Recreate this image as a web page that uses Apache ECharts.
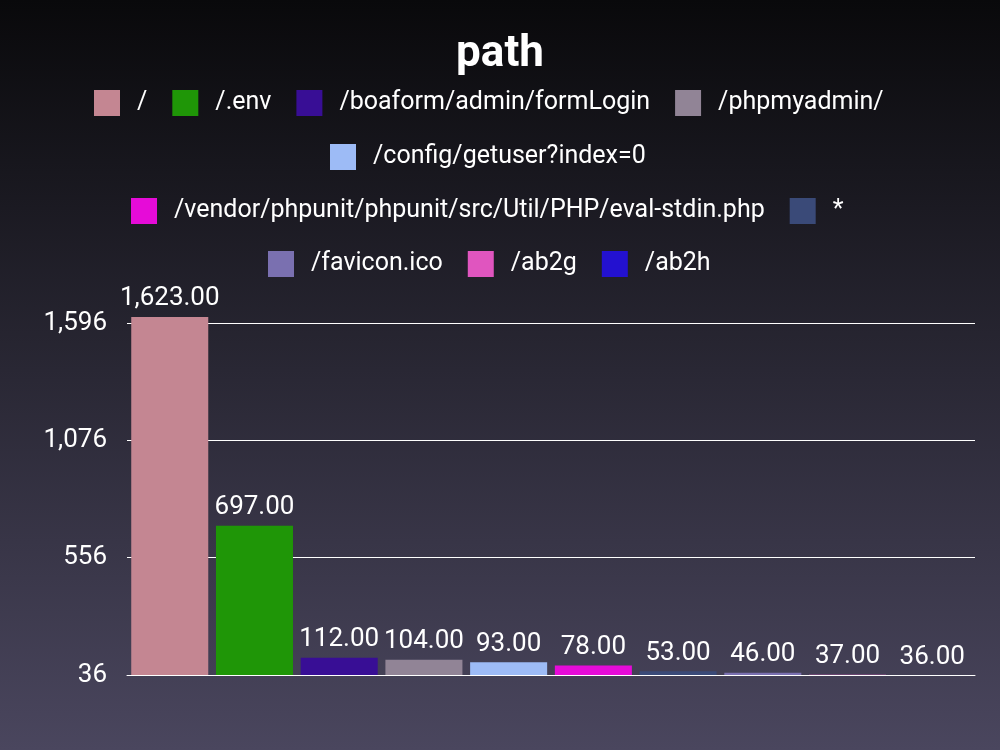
<!DOCTYPE html>
<html><head><meta charset="utf-8">
<script src="https://cdn.jsdelivr.net/npm/echarts@6/dist/echarts.min.js"></script>
<style>html,body{margin:0;padding:0;}#c{width:1000px;height:750px;}</style>
</head><body><div id="c"></div>
<script>
const names = ['/', '/.env', '/boaform/admin/formLogin', '/phpmyadmin/', '/config/getuser?index=0', '/vendor/phpunit/phpunit/src/Util/PHP/eval-stdin.php', '*', '/favicon.ico', '/ab2g', '/ab2h'];
const values = [1623, 697, 112, 104, 93, 78, 53, 46, 37, 36];
const colors = ['#c48692', '#1f9607', '#380e95', '#918496', '#9dbbf6', '#e60bd8', '#3a4a78', '#7a70b0', '#e055bf', '#2311d0'];
const legendRows = [
  ['/', '/.env', '/boaform/admin/formLogin', '/phpmyadmin/'],
  ['/config/getuser?index=0'],
  ['/vendor/phpunit/phpunit/src/Util/PHP/eval-stdin.php', '*'],
  ['/favicon.ico', '/ab2g', '/ab2h']
];
const yMin = 36, yMax = 1596, yInterval = 520;

const chart = echarts.init(document.getElementById('c'));
const font = 'Roboto';
const rowTops = [85, 139, 193, 246];
const rowLefts = [89, 325, 126, 263];
chart.setOption({
  backgroundColor: {type: 'linear', x: 0, y: 0, x2: 0, y2: 1, colorStops: [{offset: 0, color: '#09090b'}, {offset: 1, color: '#4a465e'}]},
  textStyle: {fontFamily: font},
  title: {text: 'path', left: 'center', top: 28, textStyle: {color: '#ffffff', fontSize: 44, fontWeight: 'bold', fontFamily: font}},
  legend: legendRows.map((row, r) => ({
    top: rowTops[r], left: rowLefts[r],
    icon: 'rect',
    itemWidth: 26, itemHeight: 26, itemGap: 25,
    textStyle: {color: '#ffffff', fontSize: 25, fontFamily: font, padding: [0, 0, 0, 12]},
    data: row
  })),
  grid: {left: 127, right: 25, top: 323, bottom: 75},
  xAxis: {type: 'category', data: [''], axisLabel: {show: false}, axisTick: {show: false}, axisLine: {lineStyle: {color: '#ffffff', width: 1}}},
  yAxis: {type: 'value', min: yMin, max: yMax, interval: yInterval, startValue: yMin,
    axisLabel: {color: '#ffffff', fontSize: 26, margin: 20, fontFamily: font},
    axisLine: {show: false}, axisTick: {show: false},
    splitLine: {lineStyle: {color: '#ffffff', width: 1}}},
  series: names.map((n, i) => ({
    name: n, type: 'bar', data: [values[i]], clip: false,
    barGap: '10%', barCategoryGap: '1%',
    itemStyle: {color: colors[i]},
    label: {show: true, position: 'top', color: '#ffffff', fontSize: 26, fontFamily: font,
      formatter: p => p.value.toLocaleString('en-US', {minimumFractionDigits: 2, maximumFractionDigits: 2})}
  }))
});
</script></body></html>
